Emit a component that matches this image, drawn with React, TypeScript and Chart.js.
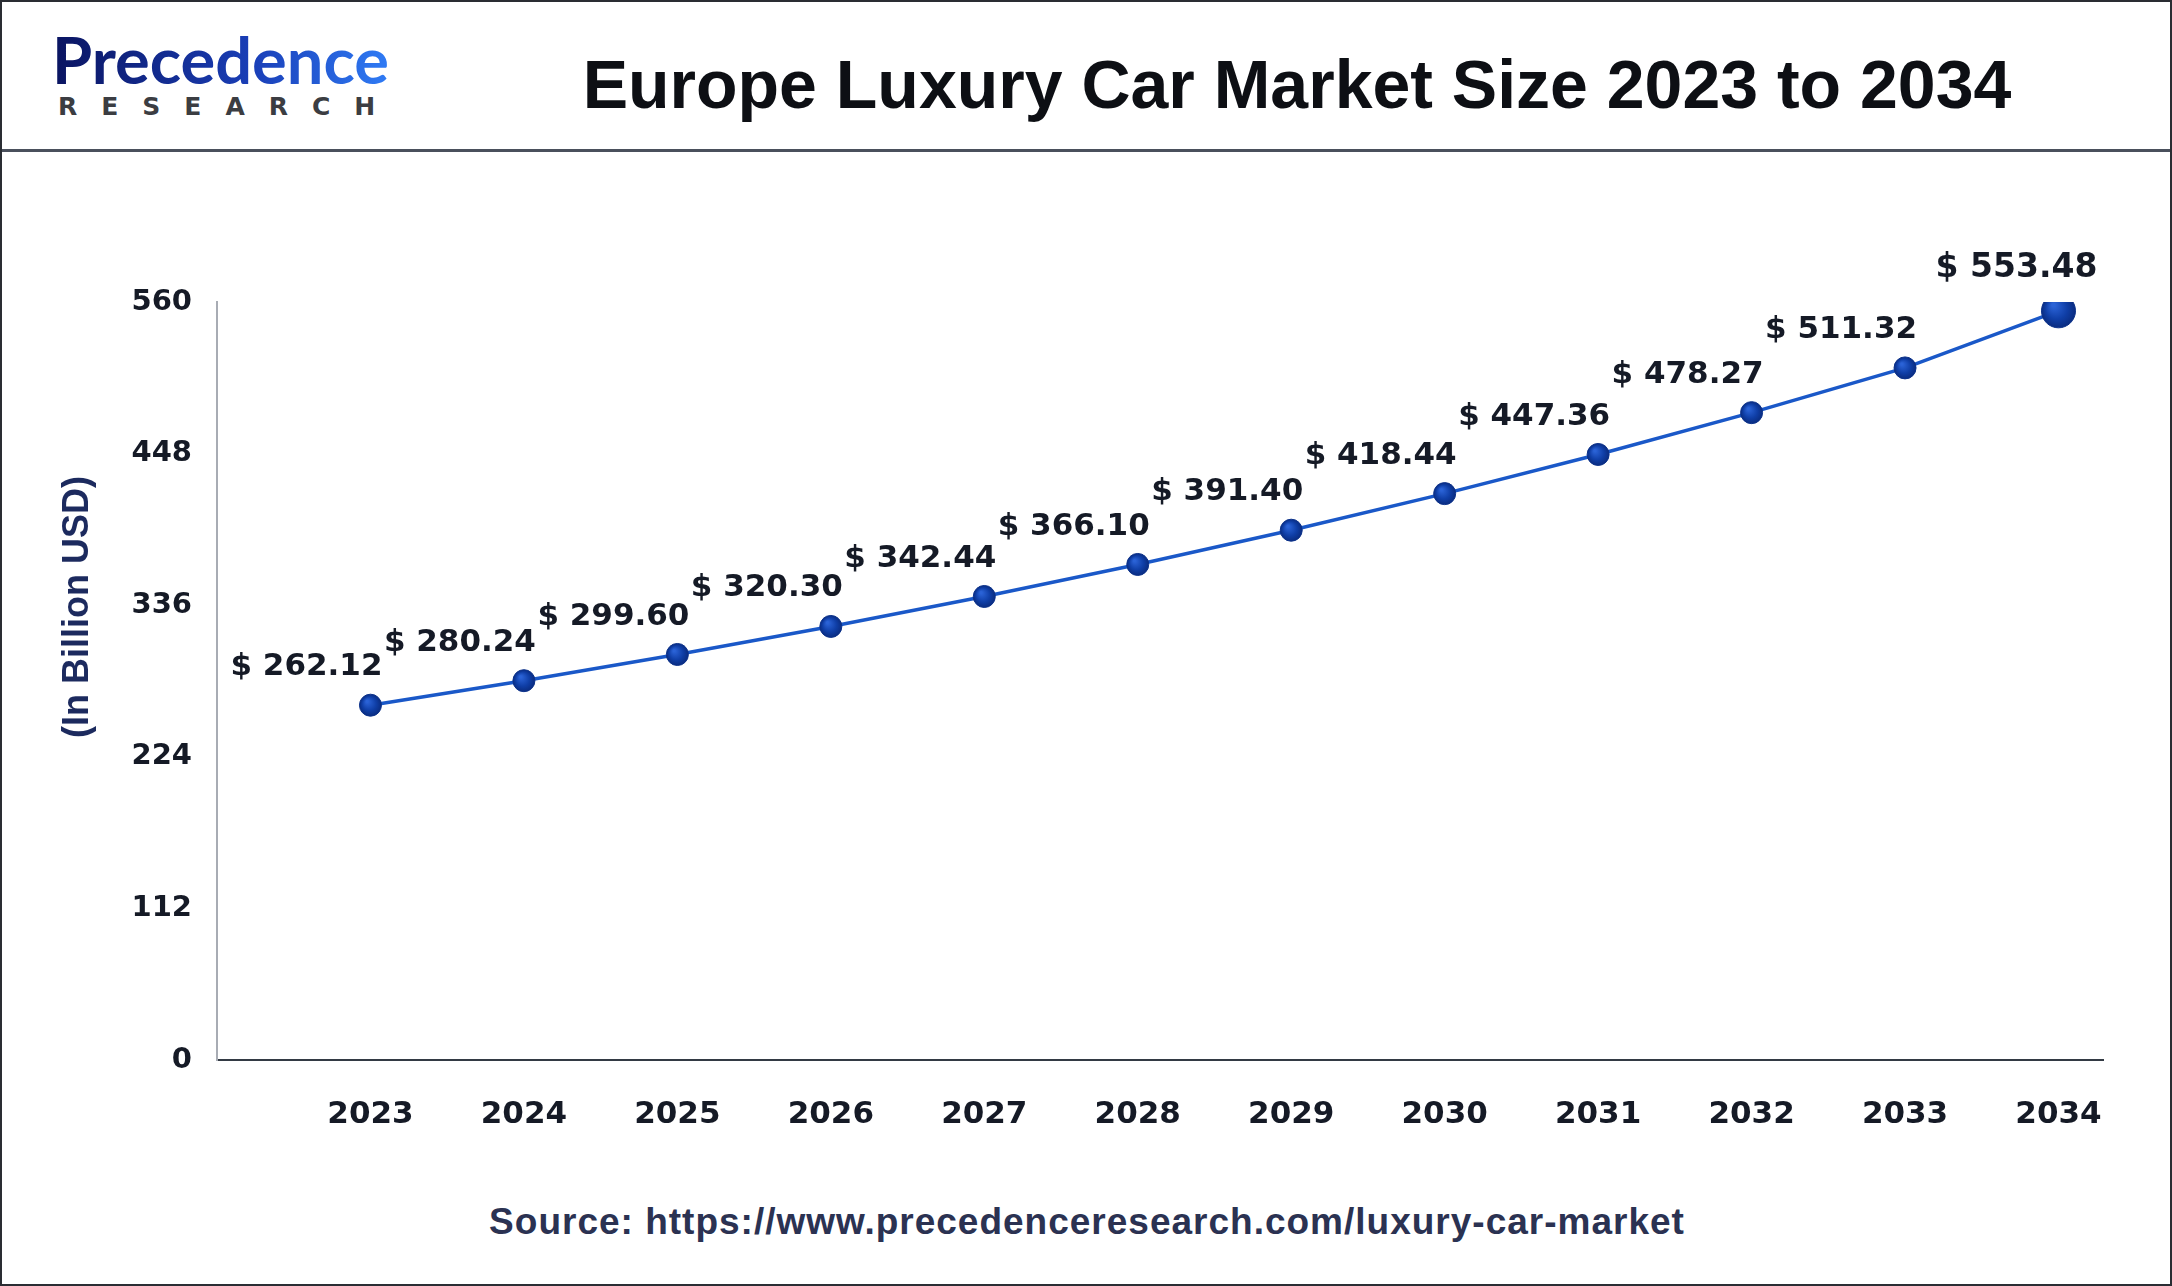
import React, { useEffect, useRef } from "react";
import { Chart, registerables } from "chart.js";

Chart.register(...registerables);

const years = [2023, 2024, 2025, 2026, 2027, 2028, 2029, 2030, 2031, 2032, 2033, 2034];
const marketSize = [262.12, 280.24, 299.6, 320.3, 342.44, 366.1, 391.4, 418.44, 447.36, 478.27, 511.32, 553.48];
const yTicks = [0, 112, 224, 336, 448, 560];

const TITLE = "Europe Luxury Car Market Size 2023 to 2034";
const Y_TITLE = "(In Billion USD)";
const SOURCE = "Source: https://www.precedenceresearch.com/luxury-car-market";

const TEXT_DARK = "#151a26";

const labelPlugin = {
  id: "valueLabels",
  afterDatasetsDraw(chart: any) {
    const ctx = chart.ctx;
    const meta = chart.getDatasetMeta(0);
    const n = meta.data.length;
    ctx.save();
    ctx.fillStyle = TEXT_DARK;
    ctx.textBaseline = "middle";
    meta.data.forEach((pt: any, i: number) => {
      const txt = "$ " + marketSize[i].toFixed(2);
      if (i === n - 1) {
        ctx.font = "bold 33px 'DejaVu Sans'";
        ctx.textAlign = "center";
        ctx.fillText(txt, pt.x - 42, pt.y - 42);
      } else {
        ctx.font = "bold 31px 'DejaVu Sans'";
        ctx.textAlign = "right";
        ctx.fillText(txt, pt.x + 12, pt.y - 38);
      }
    });
    // y-axis title
    ctx.translate(76, 455);
    ctx.rotate(-Math.PI / 2);
    ctx.font = "bold 36px 'Liberation Sans'";
    ctx.fillStyle = "#1c2a5e";
    ctx.textAlign = "center";
    ctx.fillText(Y_TITLE, 0, 0);
    ctx.restore();
  },
};

function pointFill(context: any) {
  const el = context.element;
  const c = context.chart.ctx;
  if (!el || el.x == null || isNaN(el.x)) return "#0d3a9c";
  const r = context.dataIndex === years.length - 1 ? 17 : 11;
  const g = c.createRadialGradient(el.x - r * 0.3, el.y - r * 0.35, r * 0.1, el.x, el.y, r);
  g.addColorStop(0, "#2a62d6");
  g.addColorStop(0.6, "#0f3ea6");
  g.addColorStop(1, "#0a2c80");
  return g;
}

function ChartCanvas() {
  const ref = useRef<HTMLCanvasElement | null>(null);
  useEffect(() => {
    if (!ref.current) return;
    const n = years.length;
    const chart = new Chart(ref.current, {
      type: "line",
      data: {
        datasets: [
          {
            data: years.map((y, i) => ({ x: y, y: marketSize[i] })),
            borderColor: "#1a58c8",
            borderWidth: 3.5,
            backgroundColor: "#0d3a9c",
            pointBackgroundColor: pointFill,
            pointBorderColor: "#0b318a",
            pointBorderWidth: 1,
            pointRadius: years.map((_, i) => (i === n - 1 ? 17 : 11)),
            tension: 0,
          },
        ],
      },
      options: {
        animation: false,
        responsive: false,
        maintainAspectRatio: false,
        layout: { padding: { top: 150, right: 71, left: 0, bottom: 0 } },
        plugins: { legend: { display: false }, tooltip: { enabled: false } },
        scales: {
          x: {
            type: "linear",
            min: 2022,
            max: 2034.29,
            grid: { display: false, drawTicks: false },
            border: { display: true, color: "#333a44", width: 2 },
            afterBuildTicks: (scale: any) => {
              scale.ticks = years.map((v) => ({ value: v }));
            },
            afterFit: (scale: any) => {
              scale.height = 102;
            },
            ticks: {
              autoSkip: false,
              maxRotation: 0,
              padding: 36,
              color: TEXT_DARK,
              font: { family: "'DejaVu Sans'", weight: "bold", size: 31 },
              callback: (v: any) => String(v),
            },
          },
          y: {
            min: 0,
            max: 560,
            grid: { display: false, drawTicks: false },
            border: { display: true, color: "#a8acb4", width: 2 },
            afterBuildTicks: (scale: any) => {
              scale.ticks = yTicks.map((v) => ({ value: v }));
            },
            afterFit: (scale: any) => {
              scale.width = 215;
            },
            ticks: {
              padding: 25,
              color: TEXT_DARK,
              font: { family: "'DejaVu Sans'", weight: "bold", size: 29 },
              callback: (v: any) => String(v),
            },
          },
        },
      },
      plugins: [labelPlugin],
    } as any);
    return () => chart.destroy();
  }, []);
  return (
    <canvas
      ref={ref}
      width={2172}
      height={1010}
      style={{ position: "absolute", left: 0, top: 150, width: 2172, height: 1010 }}
    />
  );
}

function Logo() {
  return (
    <svg width={440} height={140} style={{ position: "absolute", left: 0, top: 0 }}>
      <defs>
        <linearGradient id="lg" x1="0" y1="0" x2="1" y2="0">
          <stop offset="0%" stopColor="#0a1460" />
          <stop offset="60%" stopColor="#1a3fb8" />
          <stop offset="100%" stopColor="#2f7bf5" />
        </linearGradient>
      </defs>
      <text
        x={50}
        y={82}
        fill="url(#lg)"
        style={{ font: "bold 65px 'Lato'", letterSpacing: "0px" }}
      >
        Precedence
      </text>
      <text
        x={56}
        y={113}
        fill="#3b3d42"
        style={{ font: "bold 25px 'DejaVu Sans'", letterSpacing: "24px" }}
      >
        RESEARCH
      </text>
    </svg>
  );
}

export default function App() {
  useEffect(() => {
    document.body.style.margin = "0";
  }, []);
  return (
    <div
      style={{
        position: "relative",
        width: 2172,
        height: 1286,
        boxSizing: "border-box",
        border: "2px solid #2a2d33",
        background: "#ffffff",
        overflow: "hidden",
      }}
    >
      <Logo />
      <div
        style={{
          position: "absolute",
          left: 0,
          width: 2172,
          top: 0,
          height: 150,
          borderBottom: "3px solid #4a505c",
          boxSizing: "border-box",
        }}
      />
      <div
        style={{
          position: "absolute",
          left: 1295 - 800,
          width: 1600,
          top: 37,
          textAlign: "center",
          font: "bold 68px 'Liberation Sans'",
          color: "#0d0f14",
          lineHeight: "90px",
        }}
      >
        {TITLE}
      </div>
      <ChartCanvas />
      <div
        style={{
          position: "absolute",
          left: 1085 - 800,
          width: 1600,
          top: 1198,
          textAlign: "center",
          font: "bold 37px 'Liberation Sans'",
          letterSpacing: "1px",
          color: "#2b3252",
          lineHeight: "44px",
        }}
      >
        {SOURCE}
      </div>
    </div>
  );
}
